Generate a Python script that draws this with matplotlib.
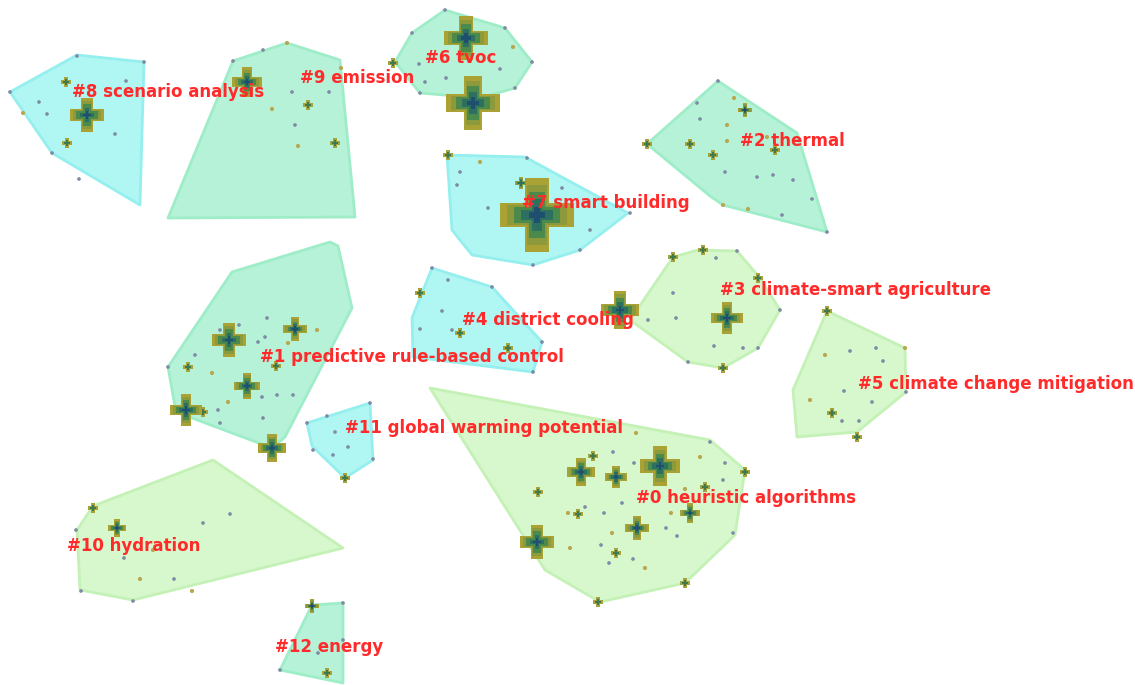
import matplotlib.pyplot as plt
from matplotlib.patches import Polygon

W, H = 1135, 685

# cluster id -> label text, label anchor (layout coords of the map)
labels = {
    0: "#0 heuristic algorithms", 1: "#1 predictive rule-based control",
    2: "#2 thermal", 3: "#3 climate-smart agriculture", 4: "#4 district cooling",
    5: "#5 climate change mitigation", 6: "#6 tvoc", 7: "#7 smart building",
    8: "#8 scenario analysis", 9: "#9 emission", 10: "#10 hydration",
    11: "#11 global warming potential", 12: "#12 energy",
}
label_xy = {
    0: (636, 498), 1: (260, 357), 2: (740, 141), 3: (720, 290), 4: (462, 320),
    5: (858, 384), 6: (425, 58), 7: (522, 203), 8: (72, 92), 9: (300, 78),
    10: (67, 546), 11: (345, 428), 12: (275, 647),
}

# convex hulls of each cluster
hulls = {
    8: [(10, 92), (77, 55), (144, 62), (140, 205), (52, 153)],
    9: [(233, 61), (287, 43), (340, 60), (355, 217), (168, 218)],
    6: [(395, 62), (412, 33), (445, 10), (505, 28), (532, 62), (515, 88), (480, 98), (420, 93)],
    7: [(447, 155), (525, 157), (628, 213), (580, 250), (533, 265), (472, 255), (452, 230)],
    2: [(647, 144), (718, 81), (797, 133), (827, 232), (723, 205), (710, 196)],
    3: [(630, 320), (673, 257), (698, 250), (737, 251), (760, 278), (780, 310), (758, 348), (723, 368), (688, 362)],
    5: [(793, 390), (827, 311), (905, 348), (906, 392), (857, 432), (797, 437)],
    4: [(432, 268), (492, 287), (542, 342), (533, 372), (413, 357), (412, 318)],
    1: [(168, 367), (232, 272), (330, 242), (338, 246), (352, 308), (285, 437), (272, 448), (176, 412)],
    11: [(307, 423), (370, 403), (373, 460), (345, 478), (312, 446)],
    0: [(430, 388), (710, 440), (745, 470), (735, 535), (685, 583), (600, 602), (545, 570)],
    10: [(93, 506), (213, 460), (343, 548), (133, 600), (80, 590), (77, 530)],
    12: [(312, 605), (343, 603), (343, 683), (280, 670)],
}
hull_kind = {8: "cyan", 7: "cyan", 4: "cyan", 11: "cyan",
             9: "mint", 6: "mint", 2: "mint", 1: "mint", 12: "mint",
             3: "lime", 5: "lime", 0: "lime", 10: "lime"}

# highly cited nodes: x, y, size of cross (px)
cross_x = [87, 247, 466, 473, 537, 521, 745, 727, 620, 229, 295, 247, 186, 272,
           660, 581, 616, 537, 637, 690, 117, 312]
cross_y = [115, 82, 38, 103, 215, 183, 110, 318, 310, 340, 329, 386, 410, 448,
           466, 472, 477, 542, 528, 513, 528, 606]
cross_s = [34, 30, 44, 54, 74, 12, 14, 32, 38, 34, 24, 26, 32, 28,
           40, 28, 22, 34, 24, 20, 18, 14]

# small diamonds
dia_x = [66, 67, 308, 335, 448, 393, 713, 690, 647, 775, 703, 673, 758, 723, 420,
         460, 508, 203, 188, 276, 345, 593, 538, 578, 616, 745, 685, 598, 93, 327,
         832, 857, 827, 705]
dia_y = [82, 143, 105, 143, 155, 63, 155, 144, 144, 150, 250, 257, 278, 368, 293,
         333, 348, 412, 367, 366, 478, 456, 492, 514, 553, 472, 583, 602, 508, 673,
         413, 437, 311, 487]

# ordinary nodes (grey-blue)
dot_x = [10, 77, 144, 52, 79, 39, 47, 126, 115, 233, 263, 292, 329, 295, 412, 445,
         505, 532, 515, 420, 419, 446, 500, 425, 527, 460, 457, 488, 562, 630, 590,
         580, 533, 718, 697, 700, 725, 757, 773, 793, 812, 782, 827, 716, 737, 673,
         676, 648, 714, 688, 743, 758, 780, 432, 448, 492, 442, 420, 452, 542, 533,
         220, 239, 267, 258, 265, 195, 168, 262, 277, 293, 218, 220, 263, 307, 327,
         335, 313, 348, 333, 370, 373, 613, 634, 725, 710, 723, 585, 604, 622, 666,
         677, 733, 601, 609, 633, 76, 203, 230, 124, 174, 81, 133, 312, 343, 343,
         280, 318, 850, 876, 883, 844, 872, 842, 859, 906]
dot_y = [92, 56, 62, 153, 179, 102, 114, 81, 134, 61, 50, 92, 92, 125, 33, 10,
         28, 62, 88, 93, 64, 78, 69, 82, 158, 172, 185, 208, 188, 213, 230, 250,
         265, 81, 103, 119, 172, 177, 175, 180, 199, 215, 232, 258, 251, 293, 318,
         320, 346, 362, 348, 348, 310, 268, 280, 287, 311, 329, 330, 342, 372, 330,
         325, 318, 342, 337, 355, 367, 397, 395, 395, 410, 423, 418, 423, 416, 432,
         450, 447, 455, 403, 459, 452, 463, 463, 442, 480, 507, 513, 503, 528, 536,
         533, 545, 563, 559, 530, 523, 514, 558, 579, 591, 601, 605, 603, 640, 670,
         653, 351, 348, 361, 391, 402, 421, 421, 392]

# olive (recent) small nodes
olive_x = [23, 272, 298, 287, 341, 513, 480, 734, 727, 727, 723, 748, 767, 212, 288,
           317, 228, 636, 700, 685, 568, 671, 612, 570, 645, 153, 140, 192, 825, 810, 905]
olive_y = [113, 109, 146, 43, 68, 47, 162, 98, 125, 141, 205, 209, 137, 373, 343,
           330, 402, 433, 457, 489, 513, 513, 533, 548, 568, 550, 579, 591, 355, 400, 348]

fills = {"cyan": ("#b0f6f3", "#94efee"), "mint": ("#b6f2d7", "#9eedc8"),
         "lime": ("#d7f7cc", "#c4f1b6")}

fig = plt.figure(figsize=(W / 100, H / 100), dpi=100)
ax = fig.add_axes([0, 0, 1, 1])
ax.set_xlim(0, W)
ax.set_ylim(H, 0)
ax.axis("off")

for cid, pts in hulls.items():
    fc, ec = fills[hull_kind[cid]]
    ax.add_patch(Polygon(pts, closed=True, facecolor=fc, edgecolor=ec,
                         linewidth=2, joinstyle="round", zorder=1))

ax.scatter(dot_x, dot_y, s=7, color="#7f8aa6", edgecolors="none", zorder=3)
ax.scatter(olive_x, olive_y, s=9, color="#b8a850", edgecolors="none", zorder=3)

# diamonds
ax.scatter(dia_x, dia_y, s=60, marker="P", color="#a8a23a", edgecolors="none", zorder=4)
ax.scatter(dia_x, dia_y, s=22, marker="P", color="#3f7a4f", edgecolors="none", zorder=4)

# crosses drawn as rings of shrinking plus markers
px2pt = 72 / 100
for frac, col in [(1.0, "#aaa234"), (0.82, "#8c9a3c"), (0.62, "#4c8a4c"),
                  (0.42, "#2e7060"), (0.22, "#1f4f6e")]:
    sizes = [(s * px2pt * frac) ** 2 for s in cross_s]
    ax.scatter(cross_x, cross_y, s=sizes, marker="P", color=col,
               edgecolors="none", zorder=5)

for cid, txt in labels.items():
    x, y = label_xy[cid]
    ax.text(x, y, txt, color="#ff2a2a", fontsize=12, fontweight="bold",
            ha="left", va="center", zorder=6)

fig.savefig("out.png", dpi=100)
